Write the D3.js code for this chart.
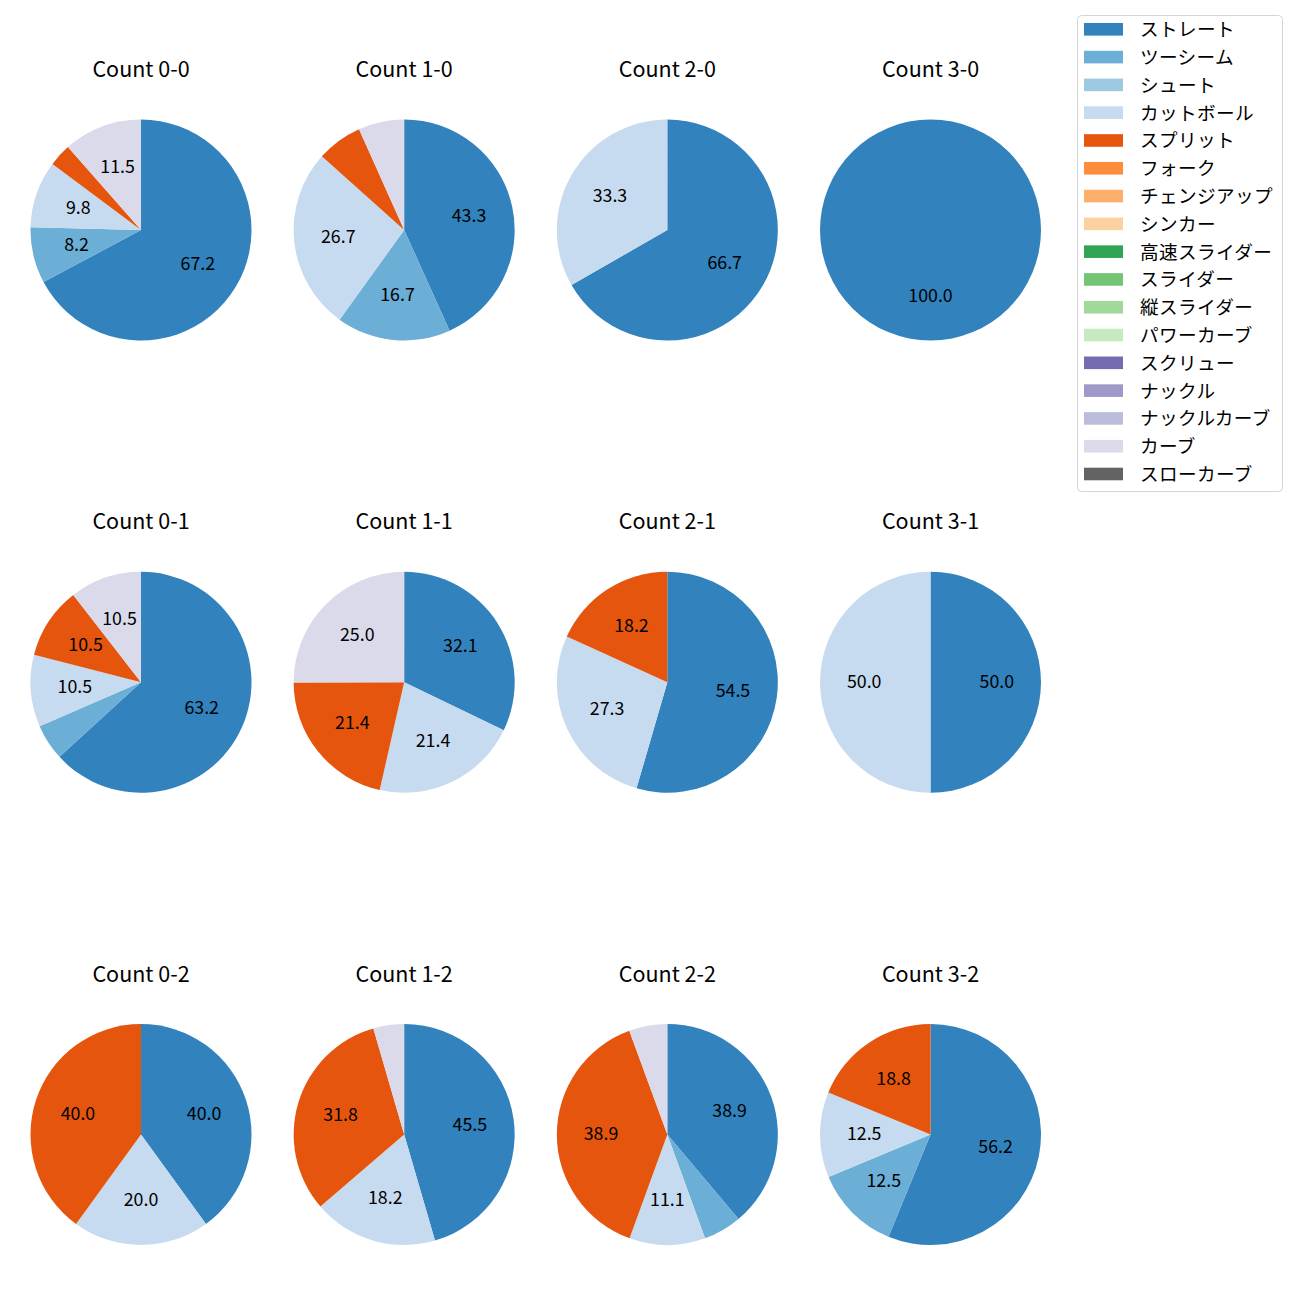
<!DOCTYPE html>
<html>
<head>
<meta charset="utf-8">
<script src="https://cdn.jsdelivr.net/npm/d3@7"></script>
<style>
  html, body { margin: 0; padding: 0; background: #fff; }
  svg { display: block; }
  text { font-family: "Noto Sans CJK JP", "Noto Sans", sans-serif; fill: #000; font-weight: 400; }
</style>
</head>
<body>
<svg id="chart" width="1300" height="1300"></svg>
<script>
// ---- data ----
const pitchTypes = ["ストレート","ツーシーム","シュート","カットボール","スプリット","フォーク","チェンジアップ","シンカー","高速スライダー","スライダー","縦スライダー","パワーカーブ","スクリュー","ナックル","ナックルカーブ","カーブ","スローカーブ"];
const pitchColors = ["#3182bd","#6baed6","#9ecae1","#c6dbef","#e6550d","#fd8d3c","#fdae6b","#fdd0a2","#31a354","#74c476","#a1d99b","#c7e9c0","#756bb1","#9e9ac8","#bcbddc","#dadaeb","#636363"];
const countLabels = ["0-0","1-0","2-0","3-0","0-1","1-1","2-1","3-1","0-2","1-2","2-2","3-2"];

// share (%) per count, same order as countLabels
const straight = [67.2, 43.3, 66.7, 100.0, 63.2, 32.1, 54.5, 50.0, 40.0, 45.5, 38.9, 56.2];
const twoSeam  = [ 8.2, 16.7,  0,     0,    5.3,  0,    0,    0,    0,    0,    5.6, 12.5];
const cutBall  = [ 9.8, 26.7, 33.3,   0,   10.5, 21.4, 27.3, 50.0, 20.0, 18.2, 11.1, 12.5];
const split    = [ 3.3,  6.7,  0,     0,   10.5, 21.4, 18.2,  0,   40.0, 31.8, 38.9, 18.8];
const curve    = [11.5,  6.7,  0,     0,   10.5, 25.0,  0,    0,    0,    4.5,  5.6,  0];

const seriesByType = {
  "ストレート": straight,
  "ツーシーム": twoSeam,
  "カットボール": cutBall,
  "スプリット": split,
  "カーブ": curve
};

// ---- layout ----
const svg = d3.select("#chart");
const colX = d3.scalePoint().domain([0,1,2,3]).range([141, 930.5]);
const rowY = d3.scalePoint().domain([0,1,2]).range([230, 1134.5]);
const R = 110.5;
const color = d3.scaleOrdinal().domain(pitchTypes).range(pitchColors);

const pie = d3.pie().sort(null).value(d => d.value).startAngle(0).endAngle(2 * Math.PI);
const arc = d3.arc().innerRadius(0).outerRadius(R);
const labelArc = d3.arc().innerRadius(R * 0.6).outerRadius(R * 0.6);

countLabels.forEach((cl, i) => {
  const col = i % 4, row = Math.floor(i / 4);
  const cx = colX(col), cy = rowY(row);
  const data = pitchTypes.map(t => ({ type: t, value: seriesByType[t] ? seriesByType[t][i] : 0 }))
                         .filter(d => d.value > 0);
  const total = d3.sum(data, d => d.value);
  const g = svg.append("g").attr("transform", `translate(${cx},${cy})`);
  const arcs = pie(data);
  g.selectAll("path").data(arcs).join("path")
    .attr("d", arc)
    .attr("fill", d => color(d.data.type));
  g.selectAll("text.pct").data(arcs.filter(d => d.data.value / total * 100 >= 7)).join("text")
    .attr("class", "pct")
    .attr("transform", d => { const c = labelArc.centroid(d); return `translate(${c[0]},${c[1] - 2.5})`; })
    .attr("text-anchor", "middle")
    .attr("dominant-baseline", "central")
    .style("font-size", "17.8px")
    .text(d => (d.data.value / total * 100).toFixed(1));
  svg.append("text")
    .attr("x", cx).attr("y", cy - 153)
    .attr("text-anchor", "middle")
    .style("font-size", "21.5px")
    .text("Count " + cl);
});

// ---- legend ----
const lg = svg.append("g");
lg.append("rect")
  .attr("x", 1077.5).attr("y", 15.5).attr("width", 205).attr("height", 476)
  .attr("rx", 4).attr("fill", "#fff").attr("stroke", "#d5d5d5").attr("stroke-width", 1);
const ly = d3.scaleLinear().domain([0, 16]).range([29.3, 474]);
pitchTypes.forEach((t, k) => {
  lg.append("rect")
    .attr("x", 1084).attr("y", ly(k) - 6.3).attr("width", 39).attr("height", 12.6)
    .attr("fill", color(t));
  lg.append("text")
    .attr("x", 1140).attr("y", ly(k) - 1.5)
    .attr("dominant-baseline", "central")
    .style("font-size", "18.6px")
    .style("letter-spacing", "0.4px")
    .text(t);
});
</script>
</body>
</html>
